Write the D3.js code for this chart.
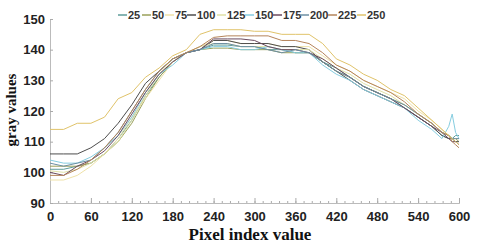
<!DOCTYPE html>
<html><head><meta charset="utf-8">
<script src="https://cdn.jsdelivr.net/npm/d3@7"></script>
<style>body{margin:0;background:#fff}svg{display:block}</style>
</head><body><svg id="c" width="480" height="243"></svg>
<script>
const xs = [0,20,40,60,80,100,120,140,160,180,200,220,240,260,280,300,320,340,360,380,400,420,440,460,480,500,520,540,560,575,585,590,595,600];
const seriesNames = ["25","50","75","100","125","150","175","200","225","250"];
const colors = ["#5e9c9a","#9aa05a","#efe2a8","#4d4d4d","#dfe0a6","#86cde0","#6b4a5e","#6d8fa3","#b5845a","#e0c36a"];
const s25  = [101,101,102,103,106,111,117,125,131,136,139,140,141.5,141.5,141,141,140,140,139,139,136,134,131,128,126,124,121,118,115,112,111,111,112,112];
const s50  = [102,102,102,103,106,110,116,124,131,136,139,140,140.5,140.5,140,140,140,139,139,139,136,133,131,128,126,124,122,119,116,113,112,111,111,110];
const s75  = [97.5,97.5,99,102,106,111,118,124,130,136,139,141,143,143,142,142,142,141,141,141,138,135,133,130,128,126,124,120,117,114,112,111,110,110];
const s100 = [106,106,106,108,111,116,122,129,133,137,139,140,143,143,142,142,142,141,141,140,136,133,130,127,125,123,121,118,115,112,111,111,110,110];
const s125 = [100.5,100,101,103,106,110,117,125,132,137,139,141,142,142,141,141,141,140,140,140,137,134,132,129,127,125,122,119,116,113,112,111,111,111];
const s150 = [104,103,103,105,108,112,118,126,132,135,139,140,141,141,140,140,141,140,139,139,135,132,130,127,125,123,121,117,114,111,115,119,113,111];
const s175 = [100,99,102,104,107,112,119,126,132,136,139,140,143.5,143.5,143.5,143,141,140,140,139,137,134,131,128,126,124,121,118,115,113,111,110,110,109];
const s200 = [103,102,103,104,108,113,120,127,133,137,139,140,142,142,141,141,140,139,140,139,136,133,131,128,126,124,122,119,116,113,112,111,111,111];
const s225 = [99,99,101,104,108,113,120,127,133,137,139,141,144,144.5,144.5,144.5,144.5,143,143,142,139,135,133,130,128,126,123,119,116,113,112,110,109,108];
const s250 = [114,114,116,116,118,124,126,131,134,138,140,145,146.5,146.5,146.5,146,146,145,145,145,142,137,135,132,130,127,125,121,117,114,112,111,110,109];
const allSeries = [s25,s50,s75,s100,s125,s150,s175,s200,s225,s250];
const yTicks = [90,100,110,120,130,140,150];
const xTicks = [0,60,120,180,240,300,360,420,480,540,600];

const svg = d3.select("#c");
const x = d3.scaleLinear().domain([0,600]).range([50,459]);
const y = d3.scaleLinear().domain([90,150]).range([203,19]);

const xAxis = svg.append("g").attr("transform","translate(0,203)")
  .call(d3.axisBottom(x).tickValues(xTicks).tickSizeInner(-5).tickSizeOuter(0).tickPadding(9));
const xMinor = svg.append("g").attr("transform","translate(0,203)")
  .call(d3.axisBottom(x).tickValues(d3.range(0,601,12)).tickSize(-2).tickFormat(""));
const yAxis = svg.append("g").attr("transform","translate(50,0)")
  .call(d3.axisLeft(y).tickValues(yTicks).tickSizeInner(-3).tickSizeOuter(0).tickPadding(5));
[xAxis,yAxis,xMinor].forEach(g=>{
  g.selectAll(".domain").attr("stroke","#bbb");
  g.selectAll(".tick line").attr("stroke","#aaa");
  g.selectAll("text").attr("font-family","Liberation Sans, Arial, sans-serif")
   .attr("font-weight","bold").attr("font-size",13).attr("fill","#222");
});

const line = d3.line().x((d,i)=>x(xs[i])).y(d=>y(d)).curve(d3.curveLinear);
allSeries.forEach((s,i)=>{
  svg.append("path").datum(s).attr("d",line).attr("fill","none")
    .attr("stroke",colors[i]).attr("stroke-width",1);
});

const legendX = [118,142,165,187,217,245,273,300,328,357];
const lg = svg.append("g");
seriesNames.forEach((n,i)=>{
  lg.append("line").attr("x1",legendX[i]).attr("x2",legendX[i]+9).attr("y1",15).attr("y2",15)
    .attr("stroke",colors[i]).attr("stroke-width",1.5);
  lg.append("text").attr("x",legendX[i]+10).attr("y",19).text(n)
    .attr("font-family","Liberation Sans, Arial, sans-serif").attr("font-weight","bold")
    .attr("font-size",11).attr("fill","#333");
});

svg.append("text").attr("x",250).attr("y",240).attr("text-anchor","middle")
  .attr("font-family","Liberation Serif, Times New Roman, serif").attr("font-weight","bold")
  .attr("font-size",17).attr("fill","#111").text("Pixel index value");
svg.append("text").attr("transform","translate(16,110) rotate(-90)").attr("text-anchor","middle")
  .attr("font-family","Liberation Serif, Times New Roman, serif").attr("font-weight","bold")
  .attr("font-size",15).attr("fill","#111").text("gray values");
</script></body></html>
